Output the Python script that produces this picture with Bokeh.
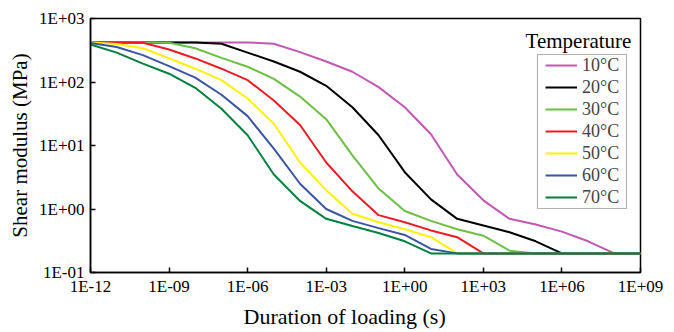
from bokeh.plotting import figure
from bokeh.models import (FixedTicker, CustomJSTickFormatter, Legend, LegendItem,
                          BoxAnnotation, Label, Range1d, Title)
from bokeh.embed import file_html
from bokeh.resources import INLINE

# ---- data ----
durations = [1e-12, 1e-11, 1e-10, 1e-9, 1e-8, 1e-7, 1e-6, 1e-5, 1e-4, 1e-3, 1e-2,
             1e-1, 1e0, 1e1, 1e2, 1e3, 1e4, 1e5, 1e6, 1e7, 1e8, 1e9]

temperatures = ["10°C", "20°C", "30°C", "40°C", "50°C", "60°C", "70°C"]

g_10 = [420, 420, 420, 420, 420, 420, 420, 400, 295, 210, 145, 83, 40, 15, 3.5, 1.37,
        0.70, 0.57, 0.44, 0.31, 0.2, 0.2]
g_20 = [420, 420, 420, 420, 420, 400, 290, 210, 145, 87, 40, 14.5, 3.8, 1.42, 0.70, 0.55,
        0.43, 0.31, 0.2, 0.2, 0.2, 0.2]
g_30 = [420, 420, 420, 415, 340, 240, 174, 112, 59, 26, 7.0, 2.1, 0.93, 0.65, 0.48, 0.38,
        0.22, 0.2, 0.2, 0.2, 0.2, 0.2]
g_40 = [420, 420, 415, 325, 235, 162, 107, 51, 21, 5.4, 1.9, 0.8, 0.62, 0.46, 0.36, 0.2,
        0.2, 0.2, 0.2, 0.2, 0.2, 0.2]
g_50 = [420, 398, 340, 235, 162, 107, 55, 22, 5.4, 1.98, 0.84, 0.62, 0.48, 0.36, 0.2, 0.2,
        0.2, 0.2, 0.2, 0.2, 0.2, 0.2]
g_60 = [410, 355, 265, 178, 117, 63, 29, 8.9, 2.5, 1.0, 0.65, 0.5, 0.39, 0.235, 0.2, 0.2,
        0.2, 0.2, 0.2, 0.2, 0.2, 0.2]
g_70 = [390, 290, 195, 135, 81, 38, 14.5, 3.5, 1.34, 0.70, 0.54, 0.42, 0.31, 0.2, 0.2, 0.2,
        0.2, 0.2, 0.2, 0.2, 0.2, 0.2]

series = [g_10, g_20, g_30, g_40, g_50, g_60, g_70]
colors = ["#C257B6", "#000000", "#6CBF45", "#ED1C24", "#FFF200", "#3A55A4", "#00803F"]

x_ticks = [1e-12, 1e-9, 1e-6, 1e-3, 1e0, 1e3, 1e6, 1e9]
x_exps = [-12, -9, -6, -3, 0, 3, 6, 9]
x_labels = ["1E-12", "1E-09", "1E-06", "1E-03", "1E+00", "1E+03", "1E+06", "1E+09"]
y_ticks = [0.1, 1, 10, 100, 1000]
y_exps = [-1, 0, 1, 2, 3]
y_labels = ["1E-01", "1E+00", "1E+01", "1E+02", "1E+03"]

x_title = "Duration of loading (s)"
y_title = "Shear modulus (MPa)"
legend_title = "Temperature"

FONT = "Liberation Serif"

p = figure(width=674, height=332, x_axis_type="log", y_axis_type="log",
           x_range=Range1d(1e-12, 1e9), y_range=Range1d(0.1, 1000),
           output_backend="svg", toolbar_location=None,
           min_border_left=90, min_border_right=34, min_border_top=18, min_border_bottom=60)
p.xgrid.visible = False
p.ygrid.visible = False
p.outline_line_color = "black"
p.outline_line_width = 1.5
p.background_fill_color = "white"
p.border_fill_color = "white"

code = """
const e = Math.round(Math.log10(tick));
const i = exps.indexOf(e);
return i >= 0 ? labels[i] : "";
"""
p.xaxis.ticker = FixedTicker(ticks=x_ticks)
p.xaxis.formatter = CustomJSTickFormatter(args=dict(exps=x_exps, labels=x_labels), code=code)
p.yaxis.ticker = FixedTicker(ticks=y_ticks)
p.yaxis.formatter = CustomJSTickFormatter(args=dict(exps=y_exps, labels=y_labels), code=code)

for ax in (p.xaxis, p.yaxis):
    ax.axis_line_width = 1.5
    ax.axis_line_color = "black"
    ax.major_tick_in = 5
    ax.major_tick_out = 0
    ax.major_tick_line_width = 1.5
    ax.minor_tick_in = 0
    ax.minor_tick_out = 0
    ax.major_label_text_font = FONT
    ax.major_label_text_font_size = "17px"
    ax.major_label_text_color = "black"
    ax.axis_label_text_font = FONT
    ax.axis_label_text_font_size = "21px"
    ax.axis_label_text_font_style = "normal"
    ax.axis_label_text_color = "black"

p.yaxis.axis_label = y_title
p.xaxis.major_label_standoff = 4
p.yaxis.major_label_standoff = 6
p.yaxis.axis_label_standoff = 4

# x-axis title, slightly left of centre as in the source figure
xt = Title(text=x_title, align="left", offset=153, standoff=7,
           text_font=FONT, text_font_size="22px", text_font_style="normal",
           text_color="black")
p.add_layout(xt, "below")

items = []
for name, ys, c in zip(temperatures, series, colors):
    r = p.line(durations, ys, line_color=c, line_width=2)
    items.append(LegendItem(label=name, renderers=[r]))

legend = Legend(items=items, location=(455, 64), padding=0, spacing=0,
                label_height=22, glyph_height=22, glyph_width=32, label_standoff=5,
                label_text_font=FONT, label_text_font_size="18px",
                border_line_alpha=0, background_fill_alpha=0, margin=0)
p.add_layout(legend, "center")

box = BoxAnnotation(left=447, right=536, bottom=64, top=218,
                    left_units="screen", right_units="screen",
                    bottom_units="screen", top_units="screen",
                    fill_alpha=0, line_color="black", line_width=1.2)
p.add_layout(box)

p.add_layout(Label(x=488, y=232, x_units="screen", y_units="screen", text=legend_title,
                   text_font=FONT, text_font_size="21px", text_align="center",
                   text_baseline="middle", text_color="black"))

open("out.html", "w").write(file_html(p, INLINE))
